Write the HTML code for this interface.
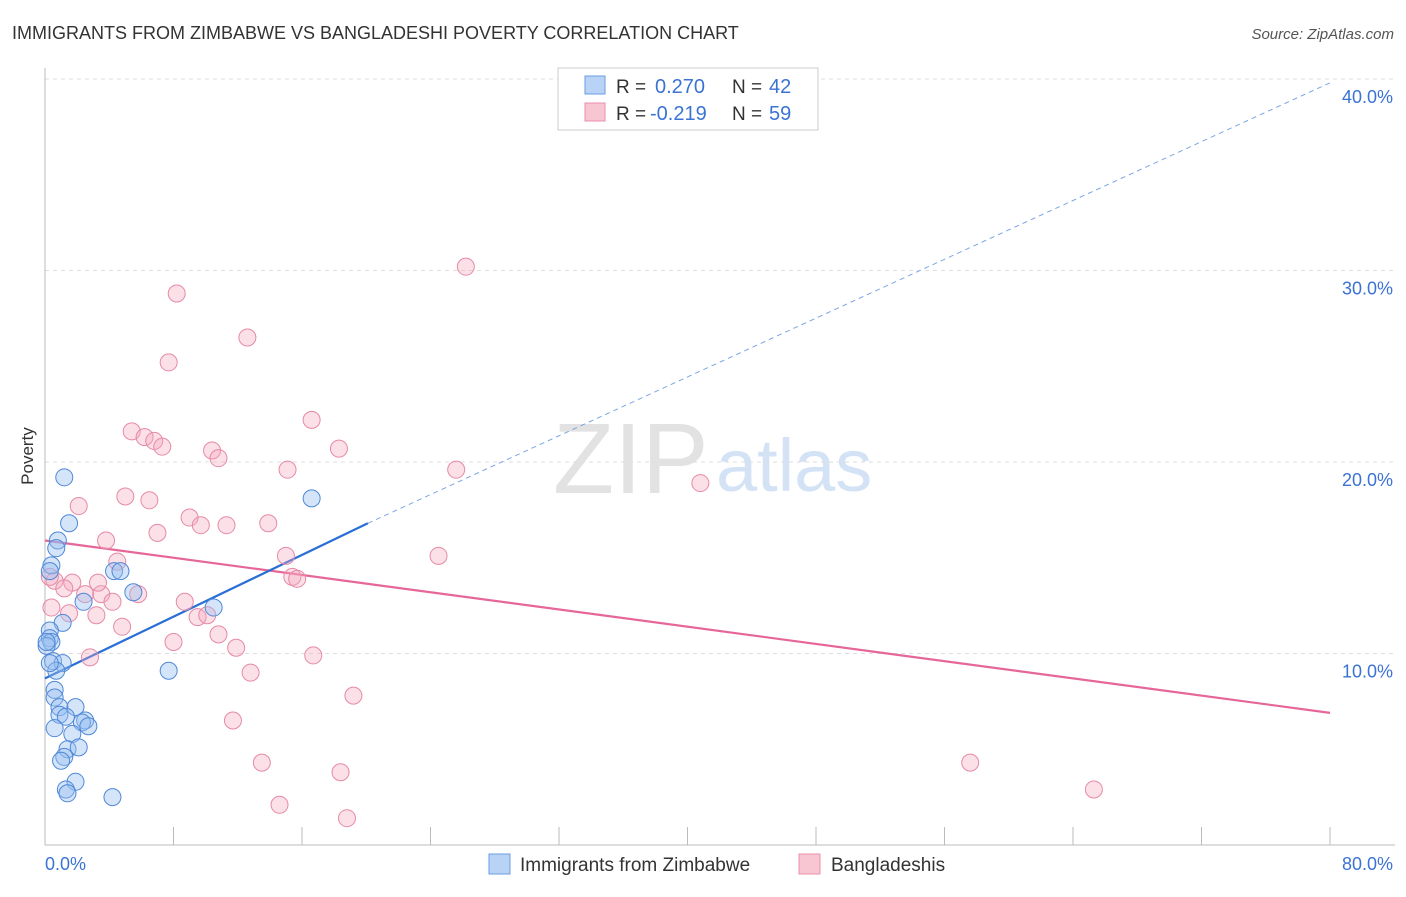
<!DOCTYPE html>
<html><head><meta charset="utf-8"><style>
body{margin:0;background:#fff;font-family:"Liberation Sans",sans-serif;}
svg text{font-family:"Liberation Sans",sans-serif;}
</style></head><body>
<svg id="chart" width="1406" height="892" xmlns="http://www.w3.org/2000/svg">
<text x="12" y="39" font-size="18" fill="#333">IMMIGRANTS FROM ZIMBABWE VS BANGLADESHI POVERTY CORRELATION CHART</text>
<text x="1394" y="39" font-size="15" fill="#555" font-style="italic" text-anchor="end">Source: ZipAtlas.com</text>
<text x="553" y="493" font-size="100" fill="#e2e2e2" font-family="Liberation Serif">ZIP</text>
<text x="716" y="491" font-size="74" fill="#d3e3f5">atlas</text>
<g id="grid"></g>
<line x1="45" y1="68" x2="45" y2="845" stroke="#bbb"/>
<line x1="45" y1="845" x2="1395" y2="845" stroke="#bbb"/>
<g id="ticks"></g>
<g id="lines"></g>
<g id="points"></g>
<text x="33" y="456" font-size="17" fill="#333" text-anchor="middle" transform="rotate(-90 33 456)">Poverty</text>
<text x="45" y="870" font-size="18" fill="#3b73d4">0.0%</text>
<text x="1393" y="870" font-size="18" fill="#3b73d4" text-anchor="end">80.0%</text>
<g>
<rect x="558" y="68" width="260" height="62" fill="#fff" stroke="#ccc"/>
<rect x="585" y="76" width="20" height="18" fill="#b8d3f5" stroke="#6a9de0"/>
<rect x="585" y="103" width="20" height="18" fill="#f8c5d3" stroke="#e890ab"/>
<text x="616" y="93" font-size="19" fill="#333">R =</text>
<text x="655" y="93" font-size="20" fill="#3b73d4">0.270</text>
<text x="732" y="93" font-size="19" fill="#333">N =</text>
<text x="769" y="93" font-size="20" fill="#3b73d4">42</text>
<text x="616" y="120" font-size="19" fill="#333">R =</text>
<text x="650" y="120" font-size="20" fill="#3b73d4">-0.219</text>
<text x="732" y="120" font-size="19" fill="#333">N =</text>
<text x="769" y="120" font-size="20" fill="#3b73d4">59</text>
</g>
<g>
<rect x="489" y="854" width="21" height="20" fill="#b8d3f5" stroke="#6a9de0"/>
<text x="520" y="871" font-size="19" fill="#333">Immigrants from Zimbabwe</text>
<rect x="799" y="854" width="21" height="20" fill="#f8c5d3" stroke="#e890ab"/>
<text x="831" y="871" font-size="19" fill="#333">Bangladeshis</text>
</g>
</svg>
<script>
const yTicks=[10,20,30,40];
const xTicks=[8,16,24,32,40,48,56,64,72,80];
const blueX=[1.2,1.5,0.8,0.7,0.4,0.3,4.3,4.7,5.5,2.4,1.1,0.3,0.3,0.4,0.1,0.5,1.1,0.7,7.7,10.5,16.6,0.6,0.6,0.9,1.9,0.9,1.3,2.5,2.3,2.7,0.6,1.7,1.4,2.1,1.2,1.0,1.9,1.3,1.4,4.2,0.3,0.1];
const blueY=[19.2,16.8,15.9,15.5,14.6,14.3,14.3,14.3,13.2,12.7,11.6,11.2,10.8,10.6,10.4,9.6,9.5,9.1,9.1,12.4,18.1,8.1,7.7,7.2,7.2,6.8,6.7,6.5,6.4,6.2,6.1,5.8,5.0,5.1,4.6,4.4,3.3,2.9,2.7,2.5,9.5,10.6];
const pinkX=[26.2,8.2,12.6,7.7,16.6,5.4,6.2,6.8,7.3,18.3,10.4,10.8,15.1,25.6,40.8,5.0,6.5,2.1,9.0,9.7,11.3,13.9,7.0,3.8,4.5,15.0,24.5,15.4,15.7,0.6,1.7,1.2,2.5,3.5,4.2,5.8,8.7,0.4,1.5,3.2,9.5,10.1,4.8,10.8,8.0,11.9,2.8,16.7,12.8,19.2,11.7,13.5,18.4,57.6,65.3,14.6,18.8,0.3,3.3];
const pinkY=[30.2,28.8,26.5,25.2,22.2,21.6,21.3,21.1,20.8,20.7,20.6,20.2,19.6,19.6,18.9,18.2,18.0,17.7,17.1,16.7,16.7,16.8,16.3,15.9,14.8,15.1,15.1,14.0,13.9,13.8,13.7,13.4,13.1,13.1,12.7,13.1,12.7,12.4,12.1,12.0,11.9,12.0,11.4,11.0,10.6,10.3,9.8,9.9,9.0,7.8,6.5,4.3,3.8,4.3,2.9,2.1,1.4,14.0,13.7];
const blueTrend=[[0,8.7],[20.1,16.8]];
const blueDash=[[20.1,16.8],[80,39.8]];
const pinkTrend=[[0,15.9],[80,6.9]];
const X=v=>45+v/80*1285, Y=v=>845-v*19.15;
const NS="http://www.w3.org/2000/svg";
function mk(tag,attrs,parent){const e=document.createElementNS(NS,tag);for(const k in attrs)e.setAttribute(k,attrs[k]);parent.appendChild(e);return e;}
const grid=document.getElementById('grid');
yTicks.forEach(t=>{
 const l=mk('line',{x1:45,x2:1395,y1:Y(t),y2:Y(t),stroke:'#ddd','stroke-dasharray':'4,4'},grid);
 
 
 const tx=mk('text',{x:1393,y:Y(t)+24,'font-size':18,fill:'#3b73d4','text-anchor':'end'},grid);
 tx.textContent=t.toFixed(1)+'%';
 
 
});
const ticks=document.getElementById('ticks');
xTicks.forEach(t=>{
 const l=mk('line',{x1:X(t),x2:X(t),y1:827,y2:845,stroke:'#bbb'},ticks);
 
 
});
const pts=document.getElementById('points');
pinkX.forEach((v,i)=>{
 const c=mk('circle',{cx:X(v),cy:Y(pinkY[i]),r:8.5,fill:'rgba(244,167,190,0.35)',stroke:'#e68aa6','stroke-width':1},pts);
 
 
});
blueX.forEach((v,i)=>{
 const c=mk('circle',{cx:X(v),cy:Y(blueY[i]),r:8.5,fill:'rgba(150,190,240,0.4)',stroke:'#4f88d8','stroke-width':1},pts);
 
 
});
const lines=document.getElementById('lines');
function seg(p,color,w,dash,name){
 const l=mk('line',{x1:X(p[0][0]),y1:Y(p[0][1]),x2:X(p[1][0]),y2:Y(p[1][1]),stroke:color,'stroke-width':w},lines);
 if(dash)l.setAttribute('stroke-dasharray',dash);
 
 
}
seg(pinkTrend,'#e6669a',2.2,null,'bangladeshi-trendline');
seg(blueTrend,'#2a6fd6',2.2,null,'zimbabwe-trendline');
seg(blueDash,'#7aa6e4',1,'5,4','zimbabwe-trendline-extension');
</script>
</body></html>
